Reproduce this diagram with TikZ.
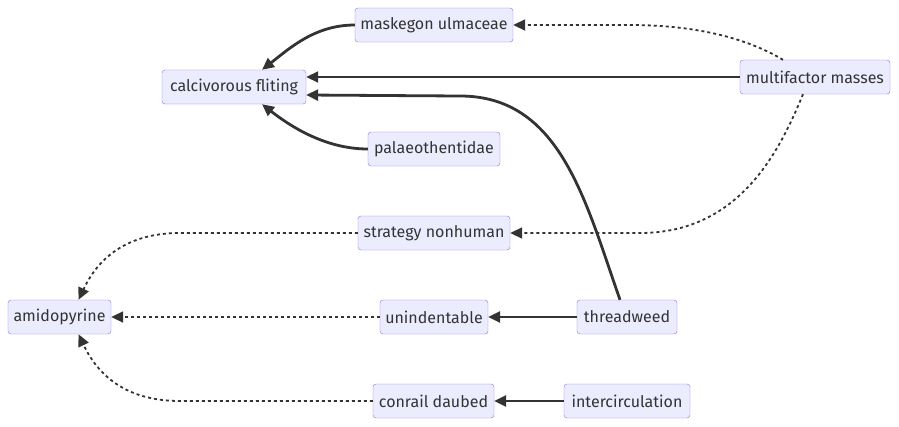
\documentclass[tikz,border=0pt]{standalone}
\usepackage{fontspec}
\setmainfont{Fira Sans}
\usetikzlibrary{arrows.meta}
\definecolor{mypurple}{HTML}{9370DB}
\definecolor{myfill}{HTML}{ECECFF}
\definecolor{mydark}{HTML}{333333}

\begin{document}
\begin{tikzpicture}[x=1pt,y=-1pt,
    item/.style={rectangle,rounded corners=3pt,draw=mypurple,fill=myfill,text=mydark,
      minimum height=34pt,inner sep=0pt,font=\fontsize{16}{19}\selectfont},
    link/.style={mydark,line width=2.8pt,-{Triangle[length=12pt,width=11pt]}},
    thinlink/.style={link,line width=1.8pt},
    dotlink/.style={link,line width=1.8pt,dash pattern=on 3pt off 3pt}]
    \useasboundingbox (0,0) rectangle (899,426);
    % boxes
    \foreach \N/\X/\Y/\W/\T in {mask/434/25/158/maskegon ulmaceae,
      calc/234/87/144/calcivorous fliting, palaeo/434/149/132/palaeothentidae,
      multi/815/77/150/multifactor masses, strat/434/233/152/strategy nonhuman,
      amido/59.5/317/103/amidopyrine, unind/434/317/108/unindentable,
      thread/627/317/100/threadweed, conrail/433.5/401/121/conrail daubed,
      inter/627/401/126/intercirculation}
    {\node[item,minimum width=\W pt] (\N) at (\X,\Y) {\T};}
    % solid edges
    \draw[link] (mask.west) .. controls (315,25) and (290,48) .. ([xshift=28pt]calc.north);
    \draw[link] (palaeo.west) .. controls (325,149) and (290,126) .. ([xshift=28pt]calc.south);
    \draw[thinlink] (multi.west) -- ([yshift=10pt]calc.east);
    \draw[link] ([xshift=-7pt]thread.north) .. controls (585,200) and (560,96) .. (460,96)
      -- ([yshift=-8pt]calc.east);
    \draw[link] (thread) -- (unind);
    \draw[link] (inter) -- (conrail);
    % dotted edges
    \draw[dotlink] ([xshift=-32pt]multi.north) .. controls (750,40) and (700,25) .. (630,25)
      -- (mask.east);
    \draw[dotlink] ([xshift=-12pt]multi.south) .. controls (780,150) and (740,233) .. (640,233)
      -- (strat.east);
    \draw[dotlink] (strat.west) -- (180,233) .. controls (120,233) and (95,265)
      .. ([xshift=19pt]amido.north);
    \draw[dotlink] (unind) -- (amido);
    \draw[dotlink] (conrail.west) -- (180,401) .. controls (120,401) and (95,369)
      .. ([xshift=19pt]amido.south);
\end{tikzpicture}
\end{document}
